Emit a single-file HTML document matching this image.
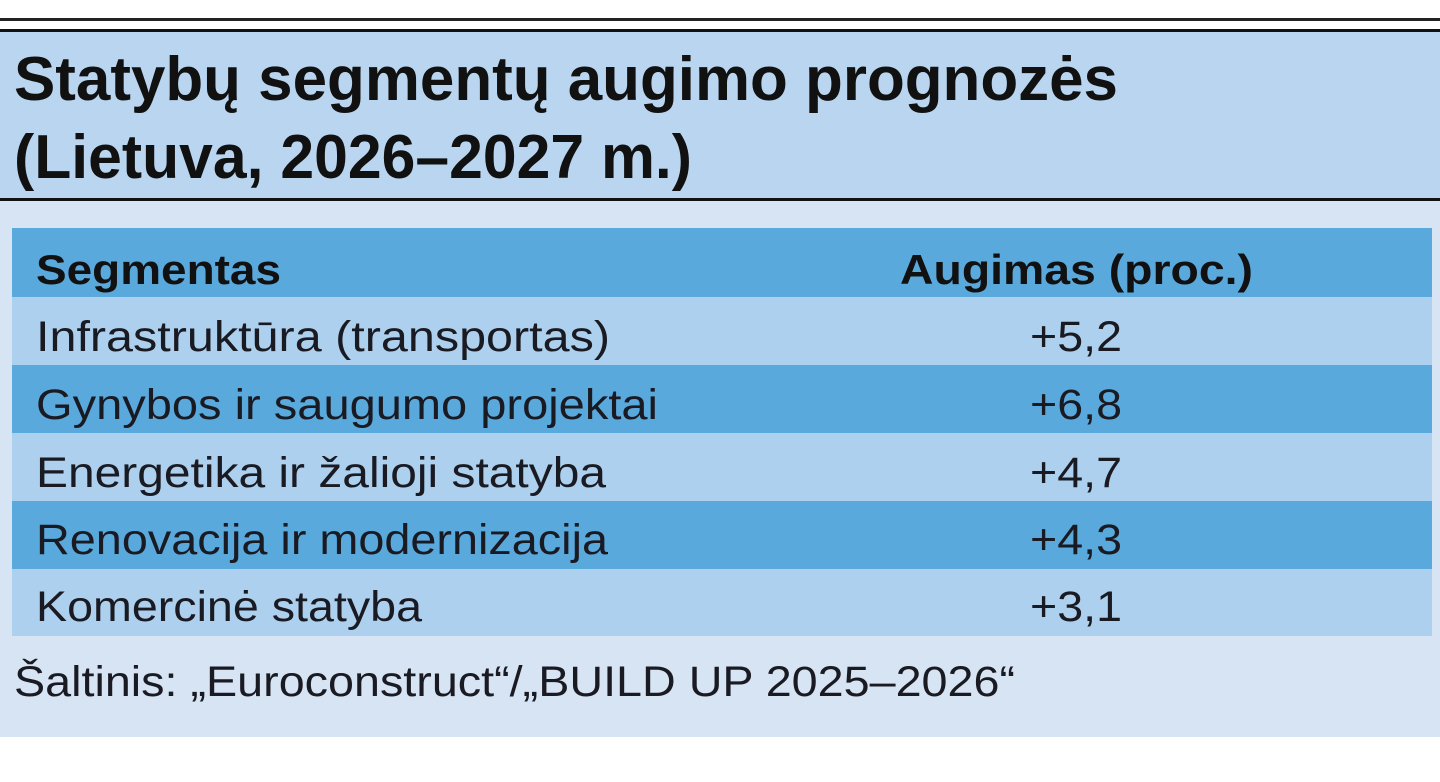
<!DOCTYPE html>
<html><head><meta charset="utf-8"><style>
html,body{margin:0;padding:0;background:#fff;width:1440px;height:782px;overflow:hidden}
svg{display:block}
</style></head><body>
<svg width="1440" height="782" xmlns="http://www.w3.org/2000/svg" font-family="'Liberation Sans', sans-serif">
<rect x="0" y="0" width="1440" height="782" fill="#fff"/>
<rect x="0" y="18" width="1440" height="3" fill="#222"/>
<rect x="0" y="32" width="1440" height="166" fill="#b9d5ef"/>
<rect x="0" y="29" width="1440" height="3" fill="#111"/>
<rect x="0" y="198" width="1440" height="3" fill="#111"/>
<rect x="0" y="201" width="1440" height="536" fill="#d6e4f3"/>
<rect x="12" y="228" width="1420" height="69" fill="#5aa9dd"/>
<rect x="12" y="297" width="1420" height="68" fill="#acd0ee"/>
<rect x="12" y="365" width="1420" height="68" fill="#5aa9dd"/>
<rect x="12" y="433" width="1420" height="68" fill="#acd0ee"/>
<rect x="12" y="501" width="1420" height="68" fill="#5aa9dd"/>
<rect x="12" y="569" width="1420" height="67" fill="#acd0ee"/>
<g fill="#111" font-weight="bold">
<text x="14" y="100" font-size="62" textLength="1104" lengthAdjust="spacingAndGlyphs">Statybų segmentų augimo prognozės</text>
<text x="14" y="178" font-size="62" textLength="678" lengthAdjust="spacingAndGlyphs">(Lietuva, 2026–2027 m.)</text>
<text x="36" y="284" font-size="42" textLength="245" lengthAdjust="spacingAndGlyphs">Segmentas</text>
<text x="900" y="284" font-size="42" textLength="353" lengthAdjust="spacingAndGlyphs">Augimas (proc.)</text>
</g>
<g fill="#1a1a22" font-size="43">
<text x="36" y="351" textLength="574" lengthAdjust="spacingAndGlyphs">Infrastruktūra (transportas)</text>
<text x="36" y="419" textLength="622" lengthAdjust="spacingAndGlyphs">Gynybos ir saugumo projektai</text>
<text x="36" y="487" textLength="570" lengthAdjust="spacingAndGlyphs">Energetika ir žalioji statyba</text>
<text x="36" y="554" textLength="572" lengthAdjust="spacingAndGlyphs">Renovacija ir modernizacija</text>
<text x="36" y="621" textLength="386" lengthAdjust="spacingAndGlyphs">Komercinė statyba</text>
<text x="1030" y="351" textLength="92" lengthAdjust="spacingAndGlyphs">+5,2</text>
<text x="1030" y="419" textLength="92" lengthAdjust="spacingAndGlyphs">+6,8</text>
<text x="1030" y="487" textLength="92" lengthAdjust="spacingAndGlyphs">+4,7</text>
<text x="1030" y="554" textLength="92" lengthAdjust="spacingAndGlyphs">+4,3</text>
<text x="1030" y="621" textLength="92" lengthAdjust="spacingAndGlyphs">+3,1</text>
<text x="14" y="696" textLength="1001" lengthAdjust="spacingAndGlyphs">Šaltinis: „Euroconstruct“/„BUILD UP 2025–2026“</text>
</g>
</svg>
</body></html>
